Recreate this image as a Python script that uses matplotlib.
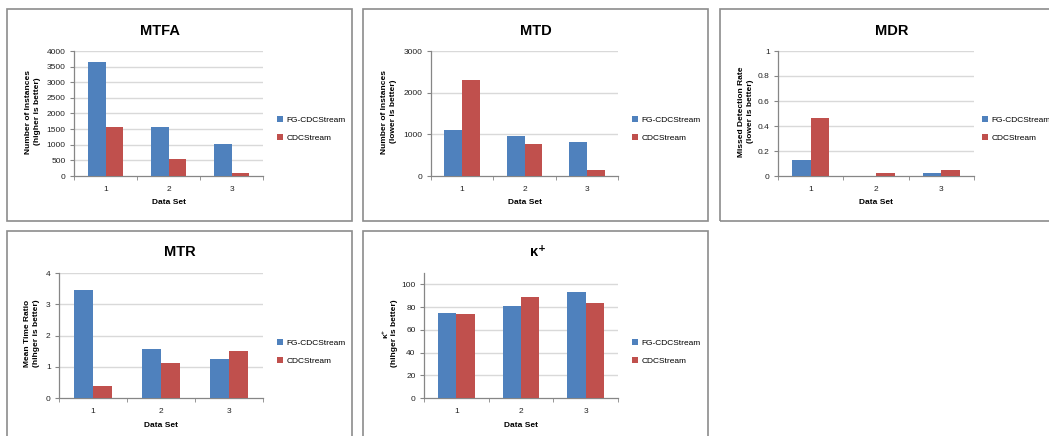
import matplotlib.pyplot as plt
from matplotlib.patches import Rectangle

plt.rcParams['font.family'] = ['Liberation Sans', 'DejaVu Sans']

categories = ['1', '2', '3']
series_names = ['FG-CDCStream', 'CDCStream']

mtfa_fg = [3660, 1570, 1010]
mtfa_cdc = [1580, 560, 110]
mtd_fg = [1100, 955, 810]
mtd_cdc = [2300, 770, 150]
mdr_fg = [0.128, 0.0, 0.022]
mdr_cdc = [0.465, 0.024, 0.045]
mtr_fg = [3.47, 1.57, 1.24]
mtr_cdc = [0.39, 1.12, 1.50]
kappa_fg = [75.0, 80.6, 93.5]
kappa_cdc = [74.2, 89.1, 83.2]

BLUE = '#4F81BD'
RED = '#C0504D'
GRID = '#D9D9D9'
AXIS = '#868686'

W, H = 1049, 436
fig = plt.figure(figsize=(W / 100, H / 100), dpi=100)


def fx(x):
    return x / W


def fy(y):
    return 1 - y / H


def draw_panel(box, plot, title, title_x, title_y, ylabel, ylabel_x,
               ylim, yticks, fg, cdc, leg_x, leg_y, fmt=str):
    bx0, by0, bx1, by1 = box
    fig.patches.append(Rectangle((fx(bx0), fy(by1)), (bx1 - bx0) / W, (by1 - by0) / H,
                                 transform=fig.transFigure, fill=False,
                                 edgecolor='#8C8C8C', linewidth=1.2))
    x0, y0, x1, y1 = plot
    ax = fig.add_axes([fx(x0), fy(y1), (x1 - x0) / W, (y1 - y0) / H])
    pos = list(range(1, len(categories) + 1))
    w = 0.2857
    ax.bar([p - w / 2 for p in pos], fg, width=w, color=BLUE, label=series_names[0], zorder=3)
    ax.bar([p + w / 2 for p in pos], cdc, width=w, color=RED, label=series_names[1], zorder=3)
    ax.set_xlim(0.5, len(categories) + 0.5)
    ax.set_ylim(*ylim)
    ax.set_yticks(yticks)
    ax.set_yticklabels([fmt(t) for t in yticks])
    for t in yticks[1:]:
        ax.axhline(t, color=GRID, linewidth=1, zorder=1)
    ax.set_xticks(pos)
    ax.set_xticklabels(categories)
    ax.set_xticks([p + 0.5 for p in range(len(categories) + 1)], minor=True)
    ax.tick_params(axis='x', which='major', length=0, pad=7, labelsize=6, labelcolor='#222222')
    ax.tick_params(axis='x', which='minor', length=3, color=AXIS, direction='out')
    ax.tick_params(axis='y', length=3, color=AXIS, pad=3, labelsize=6, labelcolor='#222222')
    for s in ['top', 'right']:
        ax.spines[s].set_visible(False)
    for s in ['left', 'bottom']:
        ax.spines[s].set_color(AXIS)
        ax.spines[s].set_linewidth(0.9)
    ax.set_facecolor('none')

    fig.text(fx(title_x), fy(title_y), title, ha='center', va='center',
             fontsize=10.5, fontweight='bold')
    fig.text(fx(ylabel_x), fy((y0 + y1) / 2 - 2), ylabel, rotation=90, ha='center', va='center',
             fontsize=6, fontweight='bold', multialignment='center', linespacing=1.25)
    fig.text(fx((x0 + x1) / 2), fy(y1 + 27), 'Data Set', ha='center', va='center',
             fontsize=6, fontweight='bold')
    ax.legend(loc='upper left', bbox_to_anchor=(fx(leg_x), fy(leg_y)),
              bbox_transform=fig.transFigure, frameon=False, fontsize=6,
              handlelength=0.7, handleheight=0.7, handletextpad=0.4,
              labelspacing=1.25, borderpad=0, borderaxespad=0)
    return ax


def dec(t):
    return ('%g' % t)


draw_panel((7, 9, 352, 221), (74, 51, 263, 176), 'MTFA', 160, 31,
           'Number of Instances\n(higher is better)', 33,
           (0, 4000), list(range(0, 4001, 500)), mtfa_fg, mtfa_cdc, 277, 116)
draw_panel((363, 9, 708, 221), (431, 51, 618, 176), 'MTD', 536, 31,
           'Number of Instances\n(lower is better)', 389,
           (0, 3000), [0, 1000, 2000, 3000], mtd_fg, mtd_cdc, 632, 116)
draw_panel((720, 9, 1060, 221), (778, 51, 974, 176), 'MDR', 892, 31,
           'Missed Detection Rate\n(lower is better)', 746,
           (0, 1), [0, 0.2, 0.4, 0.6, 0.8, 1], mdr_fg, mdr_cdc, 982, 116, fmt=dec)
draw_panel((7, 231, 352, 450), (59, 273, 263, 398), 'MTR', 180, 252,
           'Mean Time Ratio\n(hihger is better)', 32,
           (0, 4), [0, 1, 2, 3, 4], mtr_fg, mtr_cdc, 277, 339)
draw_panel((363, 231, 708, 450), (424, 273, 618, 398), '\u03ba\u207a', 538, 252,
           '\u03ba\u207a\n(hihger is better)', 390,
           (0, 110), [0, 20, 40, 60, 80, 100], kappa_fg, kappa_cdc, 632, 339)

fig.savefig('out.png', dpi=100)
